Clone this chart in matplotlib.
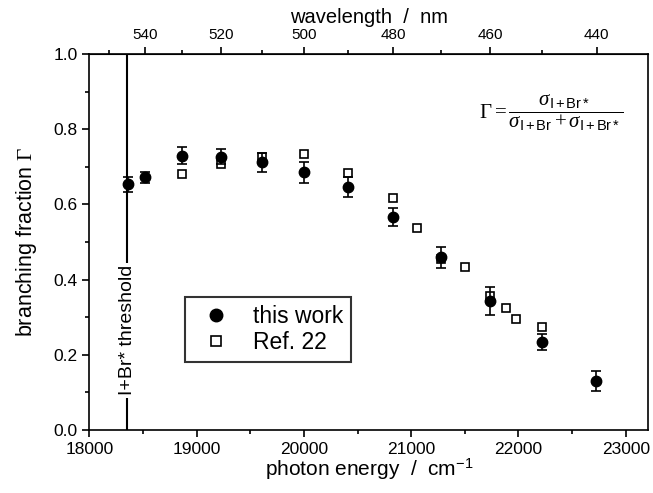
import numpy as np
import matplotlib
matplotlib.use("Agg")
import matplotlib.pyplot as plt
from matplotlib.ticker import MultipleLocator
from matplotlib.lines import Line2D

plt.rcParams['font.family'] = ['Liberation Sans', 'DejaVu Sans']
plt.rcParams['mathtext.fontset'] = 'custom'
plt.rcParams['mathtext.rm'] = 'Liberation Serif'
plt.rcParams['mathtext.it'] = 'Liberation Serif:italic'
plt.rcParams['mathtext.sf'] = 'Liberation Sans'

# this work (filled circles with error bars)
energy = np.array([18360, 18519, 18868, 19231, 19608, 20000, 20408, 20833,
                   21277, 21739, 22222, 22727])
gamma = np.array([0.654, 0.672, 0.730, 0.727, 0.712, 0.685, 0.646, 0.566,
                  0.460, 0.343, 0.234, 0.130])
gamma_err = np.array([0.020, 0.015, 0.022, 0.020, 0.025, 0.027, 0.027, 0.024,
                      0.028, 0.038, 0.022, 0.027])

# Ref. 22 (open squares)
ref_energy = np.array([18868, 19231, 19608, 20000, 20408, 20833, 21053, 21277,
                       21505, 21739, 21882, 21978, 22222])
ref_gamma = np.array([0.681, 0.707, 0.725, 0.733, 0.683, 0.618, 0.536, 0.455,
                      0.434, 0.356, 0.325, 0.294, 0.275])

threshold = 18354

fig = plt.figure(figsize=(6.53, 4.93), dpi=100)
ax = fig.add_axes([0.1368, 0.1278, 0.8560, 0.7627])

ax.axvline(threshold, color='black', lw=1.5, zorder=1)
ax.text(threshold, 0.265, 'I+Br* threshold', rotation=90, ha='center', va='center',
        fontsize=14, bbox=dict(facecolor='white', edgecolor='none', pad=2), zorder=2)

ax.plot(ref_energy, ref_gamma, 's', ms=6, mfc='white', mec='black', mew=1.2,
        zorder=3)
ax.errorbar(energy, gamma, yerr=gamma_err, fmt='o', ms=7.5, color='black',
            ecolor='black', elinewidth=1.2, capsize=3.5, capthick=1.2, zorder=4)

ax.set_xlim(18000, 23210)
ax.set_ylim(0, 1.0)
ax.xaxis.set_major_locator(MultipleLocator(1000))
ax.xaxis.set_minor_locator(MultipleLocator(500))
ax.yaxis.set_major_locator(MultipleLocator(0.2))
ax.yaxis.set_minor_locator(MultipleLocator(0.1))
ax.yaxis.set_major_formatter(plt.FormatStrFormatter('%.1f'))
ax.tick_params(which='major', direction='out', length=5, width=1.2, labelsize=12.5)
ax.tick_params(which='minor', direction='out', length=3, width=1.2)
for s in ax.spines.values():
    s.set_linewidth(1.2)

ax.set_xlabel('photon energy  /  cm$^{\\mathsf{-1}}$', fontsize=15, labelpad=0)
ax.set_ylabel('branching fraction $\\Gamma$', fontsize=15.5, labelpad=10)

top = ax.secondary_xaxis('top', functions=(lambda e: 1e7 / e, lambda w: 1e7 / w))
top.set_xticks([540, 520, 500, 480, 460, 440])
top.set_xticks([550, 530, 510, 490, 470, 450], minor=True)
top.tick_params(which='major', direction='out', length=5, width=1.2, labelsize=11)
top.tick_params(which='minor', direction='out', length=3, width=1.2)
top.set_xlabel('wavelength  /  nm', fontsize=14.5, labelpad=4)

ax.text(0.955, 0.845,
        r'$\Gamma = \dfrac{\sigma_{\mathsf{I+Br*}}}{\sigma_{\mathsf{I+Br}} + \sigma_{\mathsf{I+Br*}}}$',
        transform=ax.transAxes, ha='right', va='center', fontsize=15)

handles = [Line2D([], [], ls='none', marker='o', ms=9, color='black'),
           Line2D([], [], ls='none', marker='s', ms=7, mfc='white', mec='black', mew=1.2)]
leg = ax.legend(handles, ['this work', 'Ref. 22'], loc='upper left',
                bbox_to_anchor=(0.171, 0.355), fontsize=16.5, frameon=True,
                fancybox=False, edgecolor='black', borderpad=0.35,
                handletextpad=0.6, labelspacing=0.15, handlelength=2.0,
                borderaxespad=0)
leg.get_frame().set_linewidth(1.5)

fig.savefig('out.png', dpi=100)
